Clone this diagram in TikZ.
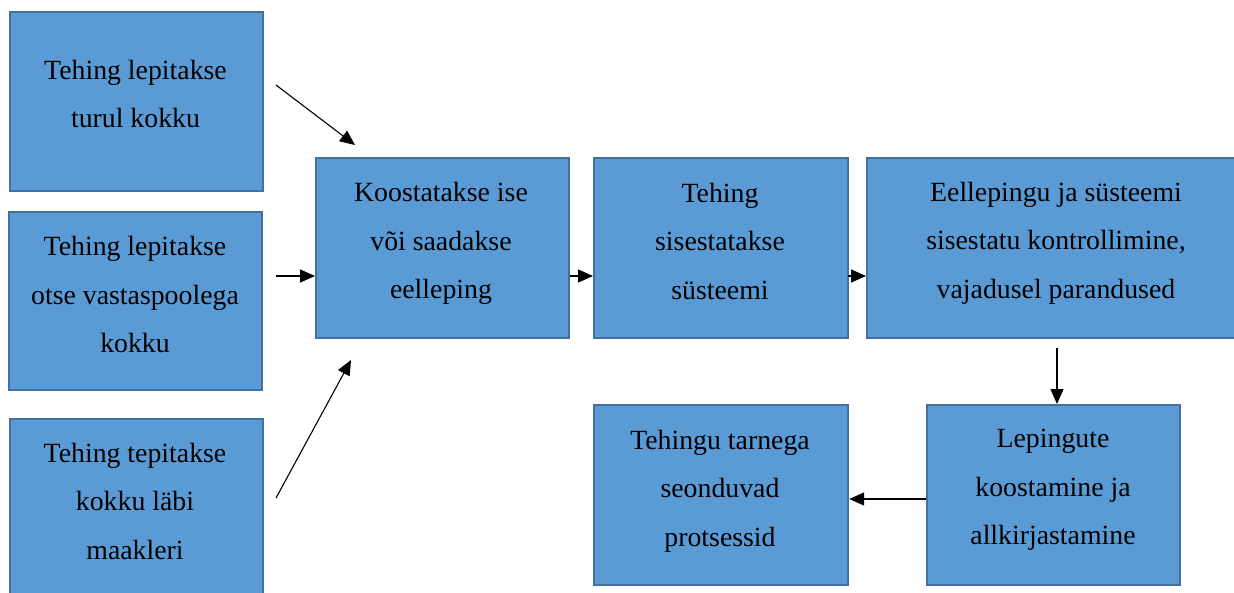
\documentclass[tikz,border=0pt]{standalone}
\usepackage{fontspec}
\setmainfont{Liberation Serif}
\usetikzlibrary{arrows.meta}
\definecolor{boxfill}{HTML}{5B9BD5}
\definecolor{boxline}{HTML}{41719C}
\begin{document}
\begin{tikzpicture}[x=1pt,y=-1pt,
  box/.style={draw=boxline, fill=boxfill, line width=2.2pt, inner sep=0pt, anchor=north west},
  txt/.style={align=center, font=\fontsize{27.8}{48.5}\selectfont, inner sep=0pt},
  arr/.style={-{Triangle[length=15pt,width=13pt]}, line width=1.1pt}]
\useasboundingbox (0,0) rectangle (1234,592);
% boxes
\node[box, minimum width=253pt, minimum height=179pt] (b1) at (9,11) {};
\node[box, minimum width=253pt, minimum height=178pt] (b2) at (8,211) {};
\node[box, minimum width=253pt, minimum height=180pt] (b3) at (9,418) {};
\node[box, minimum width=253pt, minimum height=180pt] (b4) at (315,157) {};
\node[box, minimum width=254pt, minimum height=180pt] (b5) at (593,157) {};
\node[box, minimum width=380pt, minimum height=180pt] (b6) at (866,157) {};
\node[box, minimum width=254pt, minimum height=180pt] (b7) at (593,404) {};
\node[box, minimum width=253pt, minimum height=180pt] (b8) at (926,404) {};
% texts
\node[txt] (t1) at (135.5,94) {Tehing lepitakse\\turul kokku};
\node[txt] (t2) at (135,294.5) {Tehing lepitakse\\otse vastaspoolega\\kokku};
\node[txt] (t3) at (135,501) {Tehing tepitakse\\kokku läbi\\maakleri};
\node[txt] (t4) at (441,243.5) {Koostatakse ise\\või saadakse\\eelleping};
\node[txt] (t5) at (720,241) {Tehing\\sisestatakse\\süsteemi};
\node[txt] (t6) at (1056,243) {Eellepingu ja süsteemi\\sisestatu kontrollimine,\\vajadusel parandused};
\node[txt] (t7) at (720,491) {Tehingu tarnega\\seonduvad\\protsessid};
\node[txt] (t8) at (1053,490) {Lepingute\\koostamine ja\\allkirjastamine};
% connectors
\coordinate (a1s) at (276,85);
\coordinate (a1e) at (355,145);
\coordinate (a2s) at (276,276);
\coordinate (a3s) at (276,498);
\coordinate (a3e) at (351,360);
\coordinate (a5s) at (848,276);
\coordinate (a6s) at (1057,348);
\coordinate (a7) at (900,499);
\draw[arr] (a1s) -- (a1e);
\draw[arr] (a2s) -- (a2s -| b4.west);
\draw[arr] (a3s) -- (a3e);
\draw[arr] (a2s -| b4.east) -- (a2s -| b5.west);
\draw[arr] (a5s) -- (a5s -| b6.west);
\draw[arr] (a6s) -- (a6s |- b8.north);
\draw[arr] (a7 -| b8.west) -- (a7 -| b7.east);
\end{tikzpicture}
\end{document}
